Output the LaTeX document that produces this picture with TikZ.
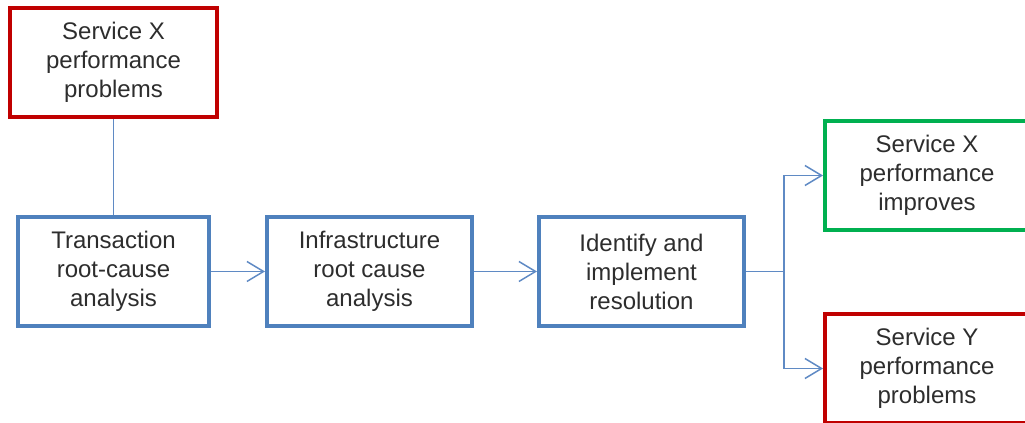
\documentclass[tikz,border=0pt]{standalone}
\usepackage{fontspec}
\setmainfont{Liberation Sans}
\usepackage{tikz}
\usetikzlibrary{arrows.meta,positioning}
\definecolor{boxBlue}{RGB}{79,129,189}
\definecolor{linkBlue}{RGB}{95,138,196}
\definecolor{probRed}{RGB}{192,0,0}
\definecolor{okGreen}{RGB}{0,176,80}
\definecolor{labelGray}{RGB}{45,45,45}

\begin{document}
\begin{tikzpicture}[x=0.75pt,y=-0.75pt,
  stage/.style={draw=boxBlue,line width=3pt,minimum width=153.75pt,minimum height=81.75pt,align=center,font=\fontsize{18}{21.75}\selectfont,text=labelGray,inner sep=2pt},
  bad/.style={stage,draw=probRed},
  good/.style={stage,draw=okGreen},
  link/.style={draw=linkBlue,line width=1.1pt},
  arrow/.style={link,-{Straight Barb[length=12.5pt,width=15pt]}}
]
\useasboundingbox (0,0) rectangle (1025,423);
\node[stage,minimum width=143.25pt] (trans) at (113.5,271.5) {Transaction\\root-cause\\analysis};
\node[stage,right=40.5pt of trans] (infra) {Infrastructure\\root cause\\analysis};
\node[stage,right=47.25pt of infra] (ident) {Identify and\\implement\\resolution};
\node[bad,minimum width=155.25pt,above=72pt of trans] (svcx) {Service X\\performance\\problems};
\node[good,minimum width=153pt] (better) at (927,175.5) {Service X\\performance\\improves};
\node[bad,minimum width=153pt,below=60pt of better] (svcy) {Service Y\\performance\\problems};
\coordinate[right=28.5pt of ident] (split);
\draw[link] (svcx) -- (trans);
\draw[arrow] (trans) -- (infra);
\draw[arrow] (infra) -- (ident);
\draw[link] (ident) -- (split);
\draw[arrow] (split) |- (better);
\draw[arrow] (split) |- (svcy);
\end{tikzpicture}
\end{document}
